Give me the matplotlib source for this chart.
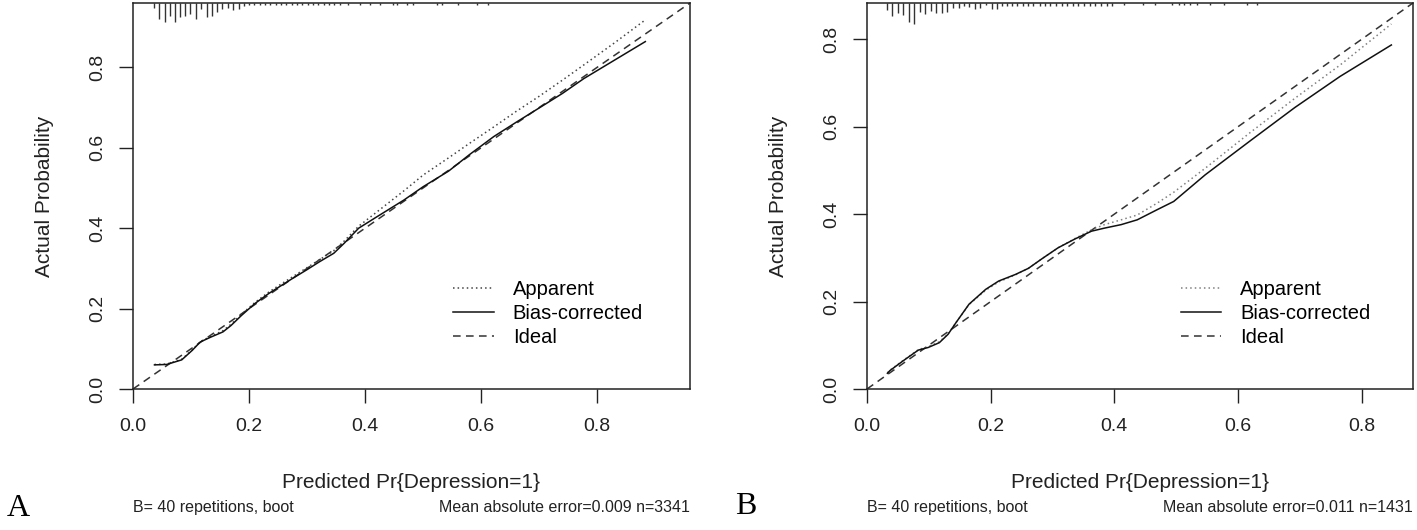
import numpy as np
import matplotlib
matplotlib.use("Agg")
import matplotlib.pyplot as plt
from matplotlib.lines import Line2D

plt.rcParams['font.family'] = ['Liberation Sans', 'DejaVu Sans']

# ---- panel A data (n=3341) ----
pred_a = [0.037, 0.058, 0.084, 0.102, 0.116, 0.134, 0.155, 0.169, 0.187, 0.21, 0.234,
          0.252, 0.275, 0.299, 0.322, 0.346, 0.364, 0.389, 0.42, 0.467, 0.5, 0.544,
          0.58, 0.622, 0.66, 0.699, 0.74, 0.777, 0.83, 0.883]
bias_a = [0.060, 0.061, 0.0725, 0.096, 0.117, 0.129, 0.142, 0.158, 0.183, 0.2125, 0.2375,
          0.254, 0.275, 0.296, 0.317, 0.3375, 0.3625, 0.40, 0.428, 0.47, 0.503, 0.542,
          0.583, 0.628, 0.663, 0.698, 0.735, 0.772, 0.818, 0.864]
appar_a = [0.061, 0.062, 0.074, 0.097, 0.118, 0.131, 0.145, 0.161, 0.186, 0.215, 0.241,
           0.258, 0.279, 0.301, 0.322, 0.344, 0.368, 0.405, 0.44, 0.493, 0.532, 0.575,
           0.611, 0.652, 0.69, 0.727, 0.768, 0.806, 0.861, 0.918]
rug_a_x = [0.036, 0.045, 0.055, 0.064, 0.072, 0.081, 0.09, 0.099, 0.109, 0.118, 0.127,
           0.136, 0.145, 0.154, 0.164, 0.173, 0.182, 0.191,
           0.2, 0.209, 0.219, 0.228, 0.236, 0.247, 0.255, 0.264, 0.274, 0.283, 0.291,
           0.302, 0.31, 0.319, 0.329, 0.338, 0.347, 0.357,
           0.371, 0.391, 0.409, 0.426, 0.448, 0.455, 0.472, 0.483, 0.524, 0.533, 0.56,
           0.593, 0.612]
rug_a_h = [0.013, 0.04, 0.048, 0.032, 0.048, 0.036, 0.032, 0.027, 0.04, 0.015, 0.036,
           0.032, 0.022, 0.015, 0.013, 0.017, 0.015, 0.007,
           0.006, 0.006, 0.006, 0.006, 0.006, 0.006, 0.006, 0.006, 0.006, 0.006, 0.006,
           0.006, 0.006, 0.006, 0.006, 0.006, 0.006, 0.006,
           0.004, 0.004, 0.004, 0.004, 0.004, 0.004, 0.004, 0.004, 0.004, 0.004, 0.004,
           0.004, 0.004]

# ---- panel B data (n=1431) ----
pred_b = [0.033, 0.037, 0.059, 0.083, 0.099, 0.117, 0.131, 0.144, 0.165, 0.192, 0.213,
          0.24, 0.261, 0.283, 0.309, 0.336, 0.363, 0.384, 0.411, 0.437, 0.469, 0.496,
          0.547, 0.62, 0.692, 0.765, 0.848]
bias_b = [0.036, 0.042, 0.065, 0.089, 0.095, 0.106, 0.125, 0.152, 0.194, 0.228, 0.247,
          0.262, 0.276, 0.298, 0.323, 0.343, 0.361, 0.368, 0.376, 0.387, 0.41, 0.429,
          0.49, 0.568, 0.644, 0.715, 0.787]
appar_b = [0.037, 0.043, 0.066, 0.09, 0.097, 0.108, 0.126, 0.152, 0.193, 0.226, 0.245,
           0.261, 0.276, 0.298, 0.323, 0.344, 0.364, 0.376, 0.387, 0.398, 0.425, 0.45,
           0.505, 0.587, 0.665, 0.741, 0.835]
rug_b_x = [0.033, 0.041, 0.05, 0.059, 0.068, 0.076, 0.086, 0.094, 0.103, 0.112, 0.121,
           0.13, 0.139, 0.148, 0.157, 0.165, 0.175, 0.183, 0.193, 0.202, 0.21,
           0.218, 0.226, 0.235, 0.243, 0.252, 0.261, 0.269, 0.279, 0.288, 0.296, 0.306,
           0.315, 0.324, 0.333, 0.342, 0.351, 0.361, 0.369, 0.378, 0.388, 0.396,
           0.415, 0.447, 0.466, 0.493, 0.504, 0.512, 0.523, 0.534, 0.555, 0.577, 0.614,
           0.631]
rug_b_h = [0.017, 0.03, 0.023, 0.028, 0.043, 0.047, 0.021, 0.026, 0.018, 0.023, 0.023,
           0.021, 0.011, 0.011, 0.008, 0.009, 0.013, 0.011, 0.005, 0.013, 0.013,
           0.006, 0.006, 0.006, 0.006, 0.006, 0.006, 0.006, 0.006, 0.006, 0.006, 0.006,
           0.006, 0.006, 0.006, 0.006, 0.006, 0.006, 0.006, 0.006, 0.006, 0.006,
           0.004, 0.004, 0.004, 0.004, 0.004, 0.004, 0.004, 0.004, 0.004, 0.004, 0.004,
           0.004]

ticks = [0.0, 0.2, 0.4, 0.6, 0.8]
tick_labels = ["0.0", "0.2", "0.4", "0.6", "0.8"]

panels = [
    dict(letter="A", pred=pred_a, bias=bias_a, appar=appar_a, rx=rug_a_x, rh=rug_a_h,
         lim=0.96, mae="Mean absolute error=0.009 n=3341", appar_col="#444444",
         rect=[133 / 1417, 141 / 530, 557 / 1417, 386 / 530], letter_x=18, letter_y=509),
    dict(letter="B", pred=pred_b, bias=bias_b, appar=appar_b, rx=rug_b_x, rh=rug_b_h,
         lim=0.883, mae="Mean absolute error=0.011 n=1431", appar_col="#808080",
         rect=[867 / 1417, 141 / 530, 546 / 1417, 386 / 530], letter_x=746, letter_y=506),
]

fig = plt.figure(figsize=(14.17, 5.30), dpi=100)

dot_style = (0, (1, 2))
dash_style = (0, (5, 3.5))

for p in panels:
    ax = fig.add_axes(p["rect"])
    lim = p["lim"]
    ax.set_xlim(0, lim)
    ax.set_ylim(0, lim)

    # ideal line
    ax.axline((0, 0), slope=1, color="#333333", lw=1.1, ls=dash_style)
    ax.plot(p["pred"], p["appar"], color=p["appar_col"], lw=1.1, ls=dot_style)
    ax.plot(p["pred"], p["bias"], color="#111111", lw=1.1)

    # distribution of predictions along the top
    top = np.full(len(p["rx"]), lim)
    ax.vlines(p["rx"], top - np.array(p["rh"]), top, color="#333333", lw=1.0)

    ax.set_xticks(ticks)
    ax.set_xticklabels(tick_labels)
    ax.set_yticks(ticks)
    ax.set_yticklabels(tick_labels, rotation=90, va="center")
    ax.tick_params(direction="out", length=10, width=1.0, labelsize=14, colors="#222222")
    ax.tick_params(axis="x", pad=11)
    ax.tick_params(axis="y", pad=9)
    for s in ax.spines.values():
        s.set_linewidth(1.1)
        s.set_color("#222222")

    ax.set_xlabel("Predicted Pr{Depression=1}", fontsize=15, color="#222222", va="center")
    ax.xaxis.set_label_coords(0.5, -0.241)
    ax.set_ylabel("Actual Probability", fontsize=15, color="#222222", va="center")
    ax.yaxis.set_label_coords(-88 / (p["rect"][2] * 1417), 0.5)

    handles = [
        Line2D([], [], color=p["appar_col"], lw=1.1, ls=dot_style),
        Line2D([], [], color="#111111", lw=1.1),
        Line2D([], [], color="#333333", lw=1.1, ls=dash_style),
    ]
    ax.legend(handles, ["Apparent", "Bias-corrected", "Ideal"], loc="upper left",
              bbox_to_anchor=(0.575, 0.282), frameon=False, fontsize=14.5,
              handlelength=2.0, handletextpad=0.95, labelspacing=0.25,
              borderpad=0, borderaxespad=0)

    ax.text(0, -0.306, "B= 40 repetitions, boot", transform=ax.transAxes,
            ha="left", va="center", fontsize=11.5, color="#222222")
    ax.text(1, -0.306, p["mae"], transform=ax.transAxes,
            ha="right", va="center", fontsize=11.5, color="#222222")

    fig.text(p["letter_x"] / 1417, 1 - p["letter_y"] / 530, p["letter"], fontsize=23,
             family=["Liberation Serif", "DejaVu Serif"], ha="center", va="center")

fig.savefig("out.png", dpi=100)
